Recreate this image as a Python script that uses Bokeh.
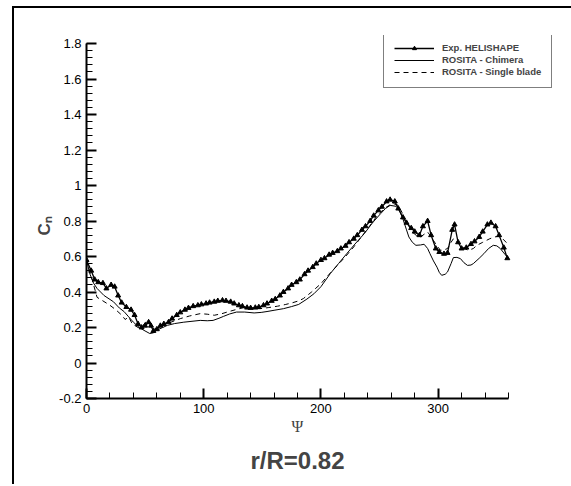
from bokeh.plotting import figure
from bokeh.layouts import column
from bokeh.models import FixedTicker, CustomJSTickFormatter, Legend, LegendItem, Title, Div
from bokeh.embed import file_html
from bokeh.resources import INLINE

# ---- data ----
exp_psi = [0, 4, 7, 10, 14, 17, 21, 24, 27, 30, 34, 38, 41, 44, 47, 50, 53, 55, 57, 60,
           63, 66, 70, 73, 77, 80, 84, 87, 91, 95, 98, 102, 105, 109, 112, 116, 119, 123,
           126, 130, 133, 137, 140, 144, 147, 151, 154, 158, 161, 165, 168, 172, 175, 179,
           182, 186, 189, 193, 196, 200, 203, 207, 210, 214, 217, 221, 224, 228, 231, 235,
           238, 242, 245, 249, 252, 256, 259, 263, 266, 270, 273, 277, 280, 284, 287, 291,
           294, 298, 301, 305, 308, 312, 314, 317, 320, 324, 328, 331, 335, 338, 342, 345,
           349, 352, 356, 359]
exp_cn = [0.58, 0.52, 0.47, 0.455, 0.45, 0.42, 0.44, 0.43, 0.38, 0.34, 0.315, 0.30, 0.27,
          0.22, 0.20, 0.21, 0.23, 0.21, 0.18, 0.19, 0.21, 0.22, 0.23, 0.25, 0.27, 0.285,
          0.30, 0.31, 0.32, 0.325, 0.33, 0.335, 0.34, 0.345, 0.35, 0.353, 0.35, 0.345,
          0.335, 0.325, 0.32, 0.312, 0.31, 0.312, 0.315, 0.325, 0.335, 0.35, 0.36, 0.38,
          0.40, 0.42, 0.44, 0.455, 0.47, 0.50, 0.52, 0.54, 0.56, 0.58, 0.59, 0.61, 0.62,
          0.63, 0.645, 0.66, 0.68, 0.70, 0.72, 0.75, 0.77, 0.80, 0.83, 0.86, 0.88, 0.91,
          0.92, 0.91, 0.87, 0.82, 0.79, 0.76, 0.74, 0.72, 0.77, 0.80, 0.72, 0.645, 0.625,
          0.615, 0.62, 0.75, 0.78, 0.68, 0.645, 0.65, 0.67, 0.685, 0.71, 0.74, 0.78, 0.79,
          0.77, 0.72, 0.65, 0.59]

chim_psi = [0, 3, 6, 9, 15, 23, 28, 32, 36, 40, 45, 49, 54, 57, 60, 65, 69, 75, 83, 90,
            97, 103, 108, 113, 117, 122, 128, 135, 143, 149, 154, 160, 168, 175, 181, 188,
            194, 200, 208, 215, 222, 229, 237, 244, 251, 255, 259, 264, 267, 270, 273, 275,
            278, 281, 285, 288, 291, 293, 296, 299, 301, 303, 306, 308, 311, 313, 316, 319,
            322, 325, 328, 330, 335, 339, 343, 347, 350, 353, 356, 360]
chim_cn = [0.58, 0.50, 0.45, 0.42, 0.38, 0.345, 0.31, 0.29, 0.26, 0.23, 0.20, 0.184, 0.166,
           0.17, 0.185, 0.20, 0.212, 0.222, 0.23, 0.235, 0.24, 0.238, 0.24, 0.252, 0.263,
           0.276, 0.287, 0.287, 0.282, 0.285, 0.29, 0.297, 0.306, 0.318, 0.33, 0.36, 0.39,
           0.43, 0.504, 0.56, 0.616, 0.67, 0.729, 0.79, 0.842, 0.87, 0.888, 0.883, 0.86,
           0.81, 0.75, 0.71, 0.68, 0.663, 0.665, 0.669, 0.645, 0.616, 0.575, 0.54, 0.51,
           0.494, 0.50, 0.513, 0.56, 0.594, 0.595, 0.588, 0.565, 0.55, 0.552, 0.56, 0.59,
           0.616, 0.645, 0.663, 0.66, 0.645, 0.62, 0.59]

single_psi = [0, 3, 5, 9, 14, 20, 25, 30, 33, 36, 39, 44, 48, 51, 53, 55, 57, 61, 66, 72,
              80, 88, 97, 103, 109, 115, 120, 127, 134, 141, 148, 155, 163, 170, 176, 181,
              185, 192, 200, 207, 214, 221, 228, 235, 242, 248, 254, 261, 266, 269, 272, 275,
              278, 282, 285, 288, 291, 293, 296, 299, 302, 305, 308, 311, 313, 316, 319, 322,
              326, 330, 333, 338, 344, 348, 352, 355, 358, 360]
single_cn = [0.58, 0.51, 0.466, 0.37, 0.35, 0.325, 0.30, 0.27, 0.245, 0.26, 0.22, 0.20, 0.21,
             0.235, 0.24, 0.22, 0.19, 0.195, 0.212, 0.23, 0.25, 0.265, 0.278, 0.275, 0.269,
             0.277, 0.287, 0.30, 0.312, 0.308, 0.306, 0.312, 0.32, 0.33, 0.34, 0.35, 0.363,
             0.40, 0.447, 0.50, 0.55, 0.60, 0.654, 0.715, 0.776, 0.83, 0.87, 0.90, 0.888,
             0.85, 0.804, 0.77, 0.738, 0.715, 0.71, 0.725, 0.738, 0.72, 0.69, 0.66, 0.635,
             0.637, 0.645, 0.68, 0.70, 0.685, 0.663, 0.645, 0.635, 0.645, 0.663, 0.68, 0.70,
             0.71, 0.714, 0.70, 0.68, 0.665]

x_major = [0, 100, 200, 300]
x_minor = list(range(0, 361, 20))
y_major = [-0.2, 0, 0.2, 0.4, 0.6, 0.8, 1, 1.2, 1.4, 1.6, 1.8]
y_minor = [round(-0.2 + 0.04 * i, 2) for i in range(51)]

series_labels = ["Exp. HELISHAPE", "ROSITA - Chimera", "ROSITA - Single blade"]
title_text = "r/R=0.82"
x_label = "Ψ"
y_label = "Cₙ"

FONT = "Liberation Sans"

# pixel scales of the reference: 422 px per 360 deg, 355 px per 2.0 units
PX_X = 422 / 360.0
PX_Y = 355 / 2.0
FW, FH = 470, 363

p = figure(frame_width=FW, frame_height=FH,
           min_border_left=72, min_border_right=13, min_border_top=27, min_border_bottom=20,
           x_range=(0, FW / PX_X), y_range=(-0.2, -0.2 + FH / PX_Y),
           output_backend="svg", toolbar_location=None, tools="")
p.outline_line_color = None
p.grid.visible = False
p.background_fill_color = "white"
p.border_fill_color = "white"

for ax, major, minor, bounds in ((p.xaxis[0], x_major, x_minor, (0, 360)),
                                 (p.yaxis[0], y_major, y_minor, (-0.2, 1.8))):
    ax.bounds = bounds
    ax.ticker = FixedTicker(ticks=major, minor_ticks=minor)
    ax.axis_line_width = 2
    ax.axis_line_color = "black"
    ax.major_tick_in = 10
    ax.major_tick_out = 0
    ax.minor_tick_in = 6
    ax.minor_tick_out = 0
    ax.major_tick_line_width = 2
    ax.minor_tick_line_width = 1
    ax.major_tick_line_color = "black"
    ax.minor_tick_line_color = "black"
    ax.major_label_text_font = FONT
    ax.major_label_text_font_size = "13px"
    ax.major_label_text_color = "black"
    ax.major_label_standoff = 5

p.yaxis[0].formatter = CustomJSTickFormatter(code="return Number(tick.toFixed(2)).toString();")
p.xaxis[0].formatter = CustomJSTickFormatter(code="return Number(tick.toFixed(0)).toString();")

r_exp_line = p.line(exp_psi, exp_cn, line_color="black", line_width=1.3)
r_exp_pts = p.scatter(exp_psi, exp_cn, marker="triangle", size=5,
                      fill_color="black", line_color="black")
r_chim = p.line(chim_psi, chim_cn, line_color="black", line_width=1)
r_single = p.line(single_psi, single_cn, line_color="black", line_width=1, line_dash="5 4")

legend = Legend(items=[
    LegendItem(label=series_labels[0], renderers=[r_exp_line, r_exp_pts]),
    LegendItem(label=series_labels[1], renderers=[r_chim]),
    LegendItem(label=series_labels[2], renderers=[r_single]),
], location=(297, 310))
legend.label_text_font = FONT
legend.label_text_font_size = "9.5px"
legend.label_text_font_style = "bold"
legend.glyph_width = 40
legend.glyph_height = 10
legend.label_height = 10
legend.spacing = 1
legend.padding = 10
legend.margin = 0
legend.label_standoff = 8
legend.border_line_color = "black"
legend.border_line_width = 1
legend.background_fill_alpha = 1
p.add_layout(legend)

# x-axis label (centred on the 0..360 axis span)
xt = Title(text=x_label, align="left", offset=205,
           text_font="Liberation Serif", text_font_style="normal", text_font_size="16px",
           standoff=0)
p.add_layout(xt, "below")

# bottom caption
title = Title(text=title_text, align="left", offset=164,
              text_font=FONT, text_font_style="bold", text_font_size="24px",
              standoff=21)
p.add_layout(title, "below")

# y-axis label
yt = Title(text=y_label, align="left", offset=163,
           text_font=FONT, text_font_style="bold", text_font_size="17px",
           standoff=6)
p.add_layout(yt, "left")

top_rule = Div(text="", width=557, height=2, margin=(0, 0, 0, 0),
               styles={"background-color": "black"})

page = column(top_rule, p, spacing=0,
              styles={"border-left": "2px solid black",
                      "margin-left": "12px", "margin-top": "6px",
                      "background-color": "white"})

open("out.html", "w").write(file_html(page, INLINE))
